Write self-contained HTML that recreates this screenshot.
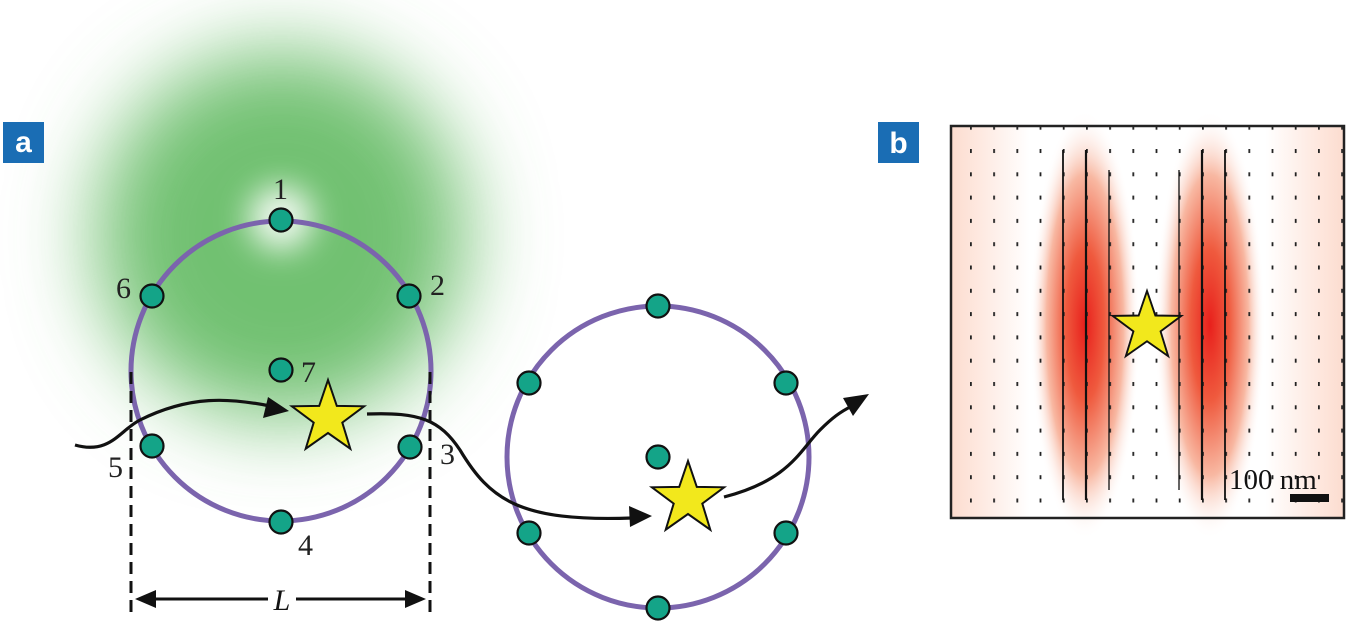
<!DOCTYPE html>
<html><head><meta charset="utf-8"><style>
html,body{margin:0;padding:0;background:#fff;}
svg{display:block;}
text{font-family:"Liberation Serif",serif;}
</style></head><body>
<svg width="1367" height="642" viewBox="0 0 1367 642" xmlns="http://www.w3.org/2000/svg">
<defs>
<filter id="blur1" x="-50%" y="-50%" width="200%" height="200%"><feGaussianBlur stdDeviation="42"/></filter>
<filter id="blur2" x="-100%" y="-100%" width="300%" height="300%"><feGaussianBlur stdDeviation="16"/></filter>
<radialGradient id="red" cx="0.5" cy="0.5" r="0.5">
<stop offset="0" stop-color="#e8201c"/>
<stop offset="0.35" stop-color="#ef5a3e"/>
<stop offset="0.7" stop-color="#f8b8a2"/>
<stop offset="1" stop-color="#ffffff" stop-opacity="0"/>
</radialGradient>
<linearGradient id="edge" x1="0" x2="1">
<stop offset="0" stop-color="#fcdccf"/><stop offset="0.08" stop-color="#feeae2"/>
<stop offset="0.2" stop-color="#ffffff"/><stop offset="0.8" stop-color="#ffffff"/>
<stop offset="0.92" stop-color="#feeae2"/><stop offset="1" stop-color="#fcdccf"/>
</linearGradient>
<pattern id="ticks" x="969.5" y="149" width="23.2" height="23.3" patternUnits="userSpaceOnUse">
<rect x="0.5" y="0" width="1.8" height="4" fill="#222"/>
</pattern>
<polygon id="star" points="0,-38 8.8,-12.1 36.1,-11.7 14.3,4.6 22.3,30.7 0,15 -22.3,30.7 -14.3,4.6 -36.1,-11.7 -8.8,-12.1" fill="#f2e81c" stroke="#111" stroke-width="2"/>
</defs>

<circle cx="281" cy="235" r="185" fill="#62ba62" fill-opacity="0.9" filter="url(#blur1)"/>
<circle cx="281" cy="218" r="32" fill="#ffffff" fill-opacity="0.9" filter="url(#blur2)"/>

<rect x="3" y="122" width="41" height="41" fill="#1a6db4"/>
<text x="23.5" y="152" font-size="30" font-weight="bold" fill="#fff" text-anchor="middle" style="font-family:'Liberation Sans',sans-serif">a</text>

<circle cx="281" cy="371" r="150" fill="none" stroke="#7b64ad" stroke-width="5"/>
<line x1="131" y1="372" x2="131" y2="612" stroke="#111" stroke-width="3" stroke-dasharray="12,7"/>
<line x1="430" y1="372" x2="430" y2="612" stroke="#111" stroke-width="3" stroke-dasharray="12,7"/>
<line x1="145" y1="599" x2="268" y2="599" stroke="#111" stroke-width="3"/>
<line x1="296" y1="599" x2="416" y2="599" stroke="#111" stroke-width="3"/>
<polygon points="135,599 156,590 156,608" fill="#111"/>
<polygon points="426,599 405,590 405,608" fill="#111"/>
<text x="282" y="610" font-size="30" font-style="italic" text-anchor="middle" fill="#111">L</text>

<circle cx="658" cy="457" r="151" fill="none" stroke="#7b64ad" stroke-width="5"/>

<path d="M75,445 C110,455 120,430 140,420 C190,395 230,398 270,406" fill="none" stroke="#111" stroke-width="3.2"/>
<polygon points="289,411 263,418 268,397" fill="#111"/>
<path d="M367,414 C420,412 440,420 460,450 C490,500 520,522 632,518" fill="none" stroke="#111" stroke-width="3.2"/>
<polygon points="652,516 630,527 629,506" fill="#111"/>
<path d="M724,497 C790,480 800,450 820,430 C832,418 840,412 852,406" fill="none" stroke="#111" stroke-width="3.2"/>
<polygon points="869,394 853,416 843,398" fill="#111"/>

<g fill="#14a488" stroke="#111" stroke-width="2.2">
<circle cx="281" cy="220" r="11.5"/>
<circle cx="409" cy="296" r="11.5"/>
<circle cx="410" cy="447" r="11.5"/>
<circle cx="281" cy="522" r="11.5"/>
<circle cx="152" cy="446" r="11.5"/>
<circle cx="152" cy="296" r="11.5"/>
<circle cx="281" cy="370" r="11.5"/>
<circle cx="658" cy="306" r="11.5"/>
<circle cx="786" cy="383" r="11.5"/>
<circle cx="786" cy="533" r="11.5"/>
<circle cx="658" cy="608" r="11.5"/>
<circle cx="529" cy="533" r="11.5"/>
<circle cx="529" cy="383" r="11.5"/>
<circle cx="658" cy="457" r="11.5"/>
</g>
<g font-size="30" fill="#222">
<text x="273" y="199">1</text>
<text x="430" y="295">2</text>
<text x="440" y="464">3</text>
<text x="298" y="555">4</text>
<text x="108" y="477">5</text>
<text x="116" y="298">6</text>
<text x="301" y="382">7</text>
</g>
<use href="#star" x="328" y="418"/>
<use href="#star" x="688" y="499"/>

<rect x="878" y="122" width="41" height="41" fill="#1a6db4"/>
<text x="898.5" y="153" font-size="30" font-weight="bold" fill="#fff" text-anchor="middle" style="font-family:'Liberation Sans',sans-serif">b</text>
<rect x="951" y="126" width="393" height="392" fill="url(#edge)"/>
<ellipse cx="1085" cy="325" rx="55" ry="215" fill="url(#red)"/>
<ellipse cx="1210" cy="325" rx="55" ry="215" fill="url(#red)"/>
<rect x="951" y="126" width="393" height="392" fill="url(#ticks)"/>
<g stroke="#111">
<line x1="1063" y1="150" x2="1063" y2="500" stroke-width="1.8"/>
<line x1="1086" y1="150" x2="1086" y2="500" stroke-width="2.2"/>
<line x1="1109" y1="170" x2="1109" y2="490" stroke-width="1.3"/>
<line x1="1179" y1="170" x2="1179" y2="490" stroke-width="1.3"/>
<line x1="1202" y1="150" x2="1202" y2="500" stroke-width="2.2"/>
<line x1="1225" y1="150" x2="1225" y2="500" stroke-width="1.8"/>
</g>
<rect x="951" y="126" width="393" height="392" fill="none" stroke="#222" stroke-width="2.5"/>
<use href="#star" transform="translate(1147,327) scale(0.95)"/>
<text x="1229" y="489" font-size="29" fill="#111">100 nm</text>
<rect x="1290" y="494" width="39" height="8" fill="#111"/>
</svg>
</body></html>
